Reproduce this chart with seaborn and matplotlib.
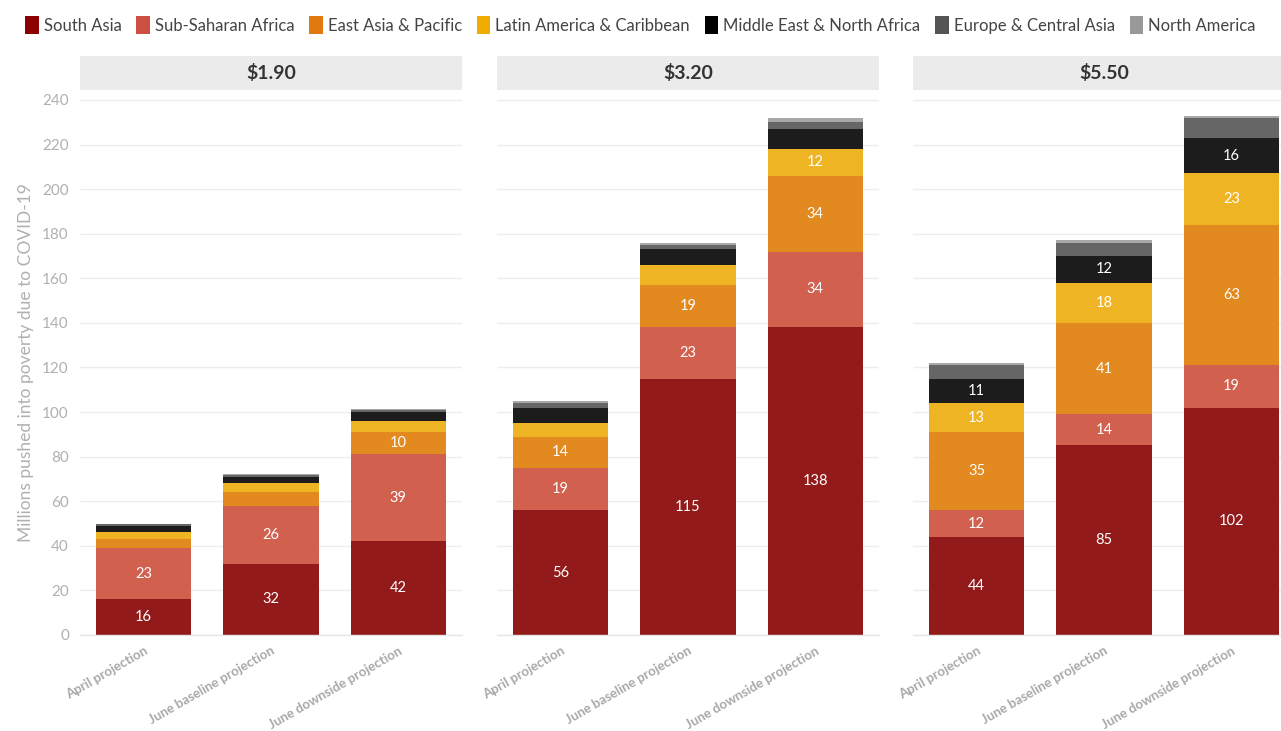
import matplotlib
matplotlib.use("Agg")
import matplotlib.pyplot as plt
from matplotlib.patches import Patch, Rectangle
import numpy as np
import pandas as pd
import seaborn as sns

# ---- data ----
poverty_lines = ["$1.90", "$3.20", "$5.50"]
projections = ["April projection", "June baseline projection", "June downside projection"]
regions = ["South Asia", "Sub-Saharan Africa", "East Asia & Pacific",
           "Latin America & Caribbean", "Middle East & North Africa",
           "Europe & Central Asia", "North America"]
# values ordered: ($1.90: Apr, Jun base, Jun down), ($3.20 ...), ($5.50 ...)
south_asia = [16, 32, 42, 56, 115, 138, 44, 85, 102]
sub_saharan = [23, 26, 39, 19, 23, 34, 12, 14, 19]
east_asia = [4, 6, 10, 14, 19, 34, 35, 41, 63]
latin_america = [3, 4, 5, 6, 9, 12, 13, 18, 23]
mena = [3, 3, 4, 7, 7, 9, 11, 12, 16]
europe_ca = [0.7, 0.8, 1, 2, 2, 3, 6, 6, 9]
north_america = [0.3, 0.4, 0.5, 1, 1, 2, 1, 1, 1]
series = [south_asia, sub_saharan, east_asia, latin_america, mena, europe_ca, north_america]

bar_colors = ["#931A1A", "#D1604F", "#E2891F", "#EFB424", "#1C1C1C", "#666666", "#A8A8A8"]
legend_colors = ["#8B0000", "#CD4F41", "#E07A10", "#F0AC00", "#000000", "#555555", "#999999"]

rows = []
for r, vals in zip(regions, series):
    for i, v in enumerate(vals):
        rows.append({"region": r, "line": poverty_lines[i // 3],
                     "projection": projections[i % 3], "value": v})
df = pd.DataFrame(rows)

sns.set_theme(style="whitegrid")
plt.rcParams["font.family"] = ["Lato", "DejaVu Sans"]

fig = plt.figure(figsize=(12.81, 7.31), dpi=100)
lefts = [80, 497, 913]
width_px = 382
bottom = (731 - 635) / 731
height = (635 - 91) / 731
axes = []
for k, line in enumerate(poverty_lines):
    ax = fig.add_axes([lefts[k] / 1281, bottom, width_px / 1281, height])
    axes.append(ax)
    sub = df[df["line"] == line]
    piv = sub.pivot(index="projection", columns="region", values="value").loc[projections, regions]
    cum = piv.cumsum(axis=1)
    # draw tallest (cumulative) first so that lower segments are on top
    for j in range(len(regions) - 1, -1, -1):
        d = pd.DataFrame({"projection": projections, "value": cum[regions[j]].values})
        sns.barplot(data=d, x="projection", y="value", order=projections,
                    color=bar_colors[j], saturation=1, width=0.75, ax=ax,
                    errorbar=None, zorder=2, linewidth=0, edgecolor="none")
    # labels
    for j in range(len(regions)):
        for i, p in enumerate(projections):
            v = piv.loc[p, regions[j]]
            if v >= 10:
                y = cum.loc[p, regions[j]] - v / 2
                ax.text(i, y, f"{v:.0f}", ha="center", va="center",
                        color="white", fontsize=10.5, zorder=5)
    ax.set_xlim(-0.5, 2.5)
    ax.set_ylim(0, 244)
    ax.set_yticks(range(0, 241, 20))
    ax.set_xlabel("")
    ax.set_ylabel("")
    ax.grid(axis="x", visible=False)
    ax.grid(axis="y", color="#EDEDED", linewidth=1, zorder=0)
    ax.set_axisbelow(True)
    for s in ["top", "right", "left"]:
        ax.spines[s].set_visible(False)
    ax.spines["bottom"].set_color("#E6E6E6")
    ax.spines["bottom"].set_linewidth(1)
    ax.tick_params(axis="x", length=5, color="#E0E0E0", width=1, pad=2)
    ax.set_xticks(range(3))
    ax.set_xticklabels(projections, rotation=30, ha="right", rotation_mode="anchor",
                       color="#A8A8A8", fontsize=9.5, fontweight="bold")
    if k == 0:
        ax.tick_params(axis="y", length=5, color="#E6E6E6", width=1, labelcolor="#B0B0B0",
                       labelsize=11, pad=3)
        ax.set_ylabel("Millions pushed into poverty due to COVID-19", color="#B0B0B0",
                      fontsize=12.5, labelpad=6)
    else:
        ax.tick_params(axis="y", length=0, labelleft=False)
    # facet strip
    strip_h = 34 / (635 - 91)
    ax.add_patch(Rectangle((0, 1.065 - strip_h), 1, strip_h, transform=ax.transAxes,
                           facecolor="#EBEBEB", edgecolor="none", clip_on=False, zorder=1))
    ax.text(0.5, 1.065 - strip_h / 2, line.replace("$", r"\$"), transform=ax.transAxes,
            ha="center", va="center", fontsize=14, fontweight="bold", color="#333333")

handles = [Patch(facecolor=c, edgecolor="none", label=r) for c, r in zip(legend_colors, regions)]
fig.legend(handles=handles, loc="center", bbox_to_anchor=(0.5, 1 - 25 / 731), ncol=7,
           frameon=False, fontsize=12, handlelength=0.8, handleheight=1.3,
           handletextpad=0.3, columnspacing=0.9, labelcolor="#444444")

fig.savefig("out.png", dpi=100)
